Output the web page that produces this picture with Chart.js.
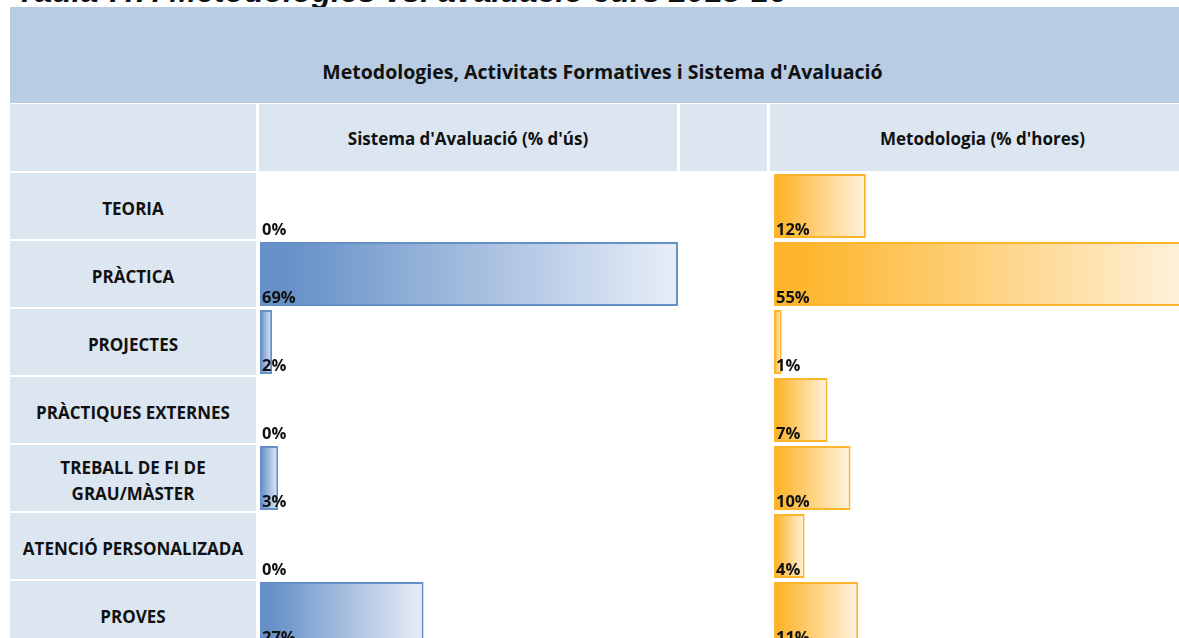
<!DOCTYPE html>
<html>
<head>
<meta charset="utf-8">
<script src="https://cdn.jsdelivr.net/npm/chart.js@4.4.0/dist/chart.umd.min.js"></script>
<style>
  html, body { margin: 0; padding: 0; background: #fff; overflow: hidden; width: 1179px; height: 638px; }
  body { position: relative; font-family: "Open Sans", Lato, sans-serif; color: #111; }
  .abs { position: absolute; }
  .cell { position: absolute; display: flex; align-items: center; justify-content: center;
          text-align: center; font-weight: bold; font-size: 17px; line-height: 26px; box-sizing: border-box; }
  .band { background: #b8cce4; }
  .light { background: #dce6f1; }
  #caption { left: 16px; top: -25px; font: italic bold 32px "Liberation Sans", Arial, sans-serif; line-height: 32px; white-space: nowrap; }
  canvas { position: absolute; }
</style>
</head>
<body>
<div id="caption" class="abs">Taula 7.7. Metodologies vs. avaluació curs 2015-16</div>
<div class="cell band" style="left:10px; top:7px; width:1185px; height:96px; align-items:flex-start; font-size:19.5px;">
  <span style="margin-top:52px;">Metodologies, Activitats Formatives i Sistema d'Avaluació</span>
</div>
<div id="header"></div>
<div id="rows"></div>
<canvas id="evalChart" width="418" height="476" style="left:260px; top:172px;"></canvas>
<canvas id="methodChart" width="421" height="476" style="left:774px; top:172px;"></canvas>

<script>
// Rows of the table (multi-line labels as arrays)
const categories = [
  "TEORIA",
  "PRÀCTICA",
  "PROJECTES",
  "PRÀCTIQUES EXTERNES",
  ["TREBALL DE FI DE", "GRAU/MÀSTER"],
  "ATENCIÓ PERSONALIZADA",
  "PROVES"
];

// Sistema d'Avaluació (% d'ús)
const evalValues = [0, 69, 2, 0, 3, 0, 27];
// Metodologia (% d'hores)
const methodValues = [12, 55, 1, 7, 10, 4, 11];

const headerLabels = ["", "Sistema d'Avaluació (% d'ús)", "", "Metodologia (% d'hores)"];

// header row cells: [left, width]
const headerCols = [[10, 246], [259, 418], [680, 87], [770, 425]];
const header = document.getElementById("header");
headerCols.forEach(([left, width], i) => {
  const d = document.createElement("div");
  d.className = "cell light";
  d.style.cssText = `left:${left}px; top:104px; width:${width}px; height:67px; padding-top:2px;`;
  d.textContent = headerLabels[i];
  header.appendChild(d);
});

// row label cells
const rows = document.getElementById("rows");
categories.forEach((label, i) => {
  const d = document.createElement("div");
  d.className = "cell light";
  d.style.cssText = `left:10px; top:${173 + i * 68}px; width:246px; height:66px; padding-top:5px;`;
  d.innerHTML = (Array.isArray(label) ? label : [label]).join("<br>");
  rows.appendChild(d);
});

// horizontal gradient per bar, from its base to its end
function barFill(from, to) {
  return (ctx) => {
    const chart = ctx.chart;
    if (!chart.chartArea || ctx.type !== "data") return from;
    const x = chart.scales.x;
    const x0 = x.getPixelForValue(0);
    const x1 = x.getPixelForValue(ctx.raw);
    if (x1 - x0 < 1) return from;
    const g = chart.ctx.createLinearGradient(x0, 0, x1, 0);
    g.addColorStop(0, from);
    g.addColorStop(0.06, from);
    g.addColorStop(1, to);
    return g;
  };
}

// value labels at the bottom-left corner of each bar
const cornerLabels = {
  id: "cornerLabels",
  afterDatasetsDraw(chart) {
    const ctx = chart.ctx;
    const meta = chart.getDatasetMeta(0);
    ctx.save();
    ctx.font = "bold 16.5px 'Open Sans', Lato, sans-serif";
    ctx.fillStyle = "#111";
    ctx.textAlign = "left";
    ctx.textBaseline = "alphabetic";
    meta.data.forEach((bar, i) => {
      const p = bar.getProps(["base", "y", "height"], true);
      const value = chart.data.datasets[0].data[i];
      ctx.fillText(value + "%", p.base + 2, p.y + p.height / 2 - 3);
    });
    ctx.restore();
  }
};

function makeChart(id, values, fillFrom, fillTo, border) {
  return new Chart(document.getElementById(id), {
    type: "bar",
    data: {
      labels: categories,
      datasets: [{
        data: values,
        backgroundColor: barFill(fillFrom, fillTo),
        borderColor: border,
        borderWidth: (ctx) => (ctx.raw > 0 ? 2 : 0),
        borderSkipped: false,
        barPercentage: 1,
        categoryPercentage: 0.94
      }]
    },
    options: {
      indexAxis: "y",
      responsive: false,
      animation: false,
      layout: { padding: 0 },
      plugins: { legend: { display: false }, tooltip: { enabled: false } },
      scales: {
        x: { display: false, min: 0, max: Math.max(...values) },
        y: { display: false }
      }
    },
    plugins: [cornerLabels]
  });
}

makeChart("evalChart", evalValues, "#6590c8", "#e8eef7", "#6890c8");
makeChart("methodChart", methodValues, "#fdb52b", "#fff3e0", "#fdb52b");
</script>
</body>
</html>
